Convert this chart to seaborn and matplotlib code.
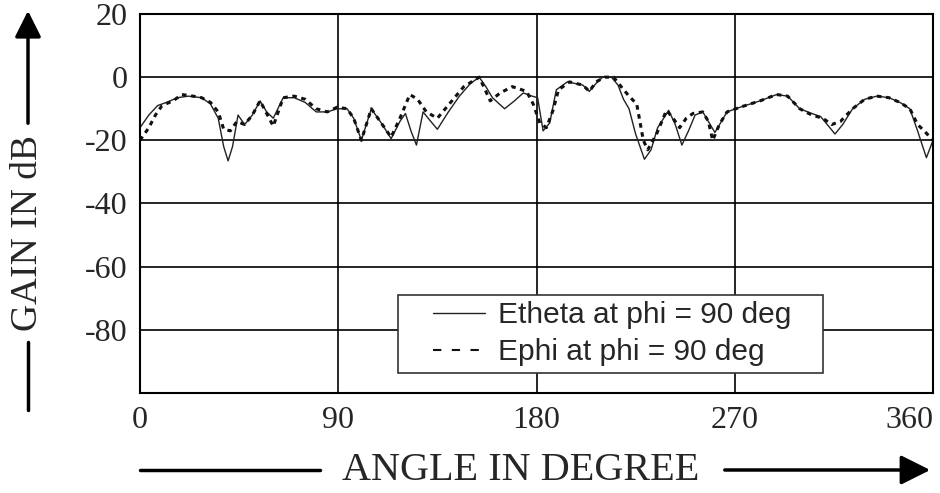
import numpy as np
import pandas as pd
import matplotlib
matplotlib.use('Agg')
import matplotlib.pyplot as plt
import seaborn as sns
from matplotlib.patches import FancyArrowPatch, Rectangle
from matplotlib.lines import Line2D

# Etheta at phi = 90 deg (solid trace)
etheta_angle = [0, 4, 8, 12, 17, 22, 28, 32, 35.5, 38, 40, 42, 44.5, 47.5, 51, 54.5, 57.5, 60.5,
                65, 70, 75, 80, 85, 89.5, 94, 97, 100.5, 105, 110, 114, 118, 120.5, 123, 125.5,
                128.5, 132, 135, 140, 145, 150, 154, 157, 160, 165.5, 170, 174, 178, 180.5, 183,
                186, 189, 194, 201, 204, 207, 210, 214, 217, 219.5, 222, 225, 229, 232, 235, 240,
                243, 246, 249, 252, 255.5, 258, 261, 266.5, 272.5, 281.5, 289, 294, 299.5, 305,
                309, 312, 315.5, 319, 323.5, 329, 334.5, 340, 345, 349.5, 353, 357, 360]
etheta_gain = [-16, -12, -9, -8, -6.5, -6, -6.5, -8.5, -13, -22, -26.5, -22, -12, -15, -12, -7.5, -11, -13,
               -6.5, -6.5, -8, -11, -11, -10, -10, -13, -20, -10, -15, -19.5, -14, -11.5, -17, -21.5,
               -11, -14, -16.5, -11, -6, -2, 0, -3, -6.5, -10, -7.5, -5, -6, -6.5, -17,
               -14.5, -4, -1.5, -2.5, -4.5, -2, 0, 0, -2.5, -7, -10, -18, -26, -23, -16, -10.5,
               -15, -21.5, -17, -12, -11, -14, -17.5, -11, -9.5, -7.5, -5.5, -6, -10, -11.5,
               -12.5, -15, -18, -15, -10, -7, -6, -6.5, -8, -10, -17, -25.5, -20]

# Ephi at phi = 90 deg (dashed trace)
ephi_angle = [0, 4, 7, 10, 15, 19, 24, 28, 32, 35.5, 38, 41, 44, 47.5, 51, 54.5, 57.5, 60.5,
              65, 70, 75, 80, 85, 89.5, 94, 97, 100.5, 105, 110, 114, 118, 122.5, 126, 130, 135,
              141, 147, 154, 159, 163.5, 169, 175.5, 178.5, 181.5, 184.5, 187.5, 190, 195, 201,
              204, 207, 211, 215, 219, 222, 225.5, 228.5, 230.5, 234.5, 239, 242, 245, 248, 251,
              255.5, 258, 260, 263, 266.5, 272.5, 281.5, 289, 294, 299.5, 305, 310, 314, 318,
              323.5, 329, 334.5, 340, 345, 349.5, 353, 356, 360]
ephi_gain = [-20, -16, -12, -9, -7.5, -5.5, -6, -6.5, -8, -11, -16.5, -17, -14, -15, -12, -7.5, -11.5, -15.5,
             -6.5, -6, -7, -10, -11, -9.5, -10, -13, -20, -10, -15, -19, -13, -5.5, -7, -11, -13,
             -8, -3, 0, -7.5, -5, -3, -4.5, -8.5, -14.5, -16, -10.5, -4, -1.5, -2.5,
             -4.5, -1.5, 0, 0, -3.5, -6, -8.5, -20, -23, -18, -10.5, -13, -16, -13, -11.5,
             -11, -14, -20, -15, -11, -9.5, -7.5, -5.5, -6, -10, -12, -13, -15, -14,
             -10, -7, -6, -6.5, -8, -10, -15, -17, -20]

x_ticks = [0, 90, 180, 270, 360]
y_ticks = [20, 0, -20, -40, -60, -80]

sns.set_style('white')
plt.rcParams['font.family'] = ['Liberation Serif', 'DejaVu Serif']
plt.rcParams['axes.unicode_minus'] = False

fig = plt.figure(figsize=(9.4, 4.93), dpi=100)
ax = fig.add_axes([140 / 940, 1 - 393 / 493, 793 / 940, 379 / 493])

sns.lineplot(x=etheta_angle, y=etheta_gain, ax=ax, color='#222222', linewidth=1.0,
             label='Etheta at phi = 90 deg', errorbar=None)
sns.lineplot(x=ephi_angle, y=ephi_gain, ax=ax, color='#111111', linewidth=2.2,
             linestyle=(0, (1.5, 1.5)), label='Ephi at phi = 90 deg', errorbar=None)

ax.set_xlim(0, 360)
ax.set_ylim(-100, 20)
ax.set_xticks(x_ticks)
ax.set_yticks(y_ticks)
ax.grid(True, color='black', linewidth=1.2)
ax.tick_params(length=0, labelsize=23, pad=9)
# last x label sits inside the right edge
ax.get_xticklabels()[-1].set_horizontalalignment('right')
for s in ax.spines.values():
    s.set_color('black')
    s.set_linewidth(1.5)
ax.set_xlabel('')
ax.set_ylabel('')

# legend: frame drawn as a box, entries placed inside it
ax.add_patch(Rectangle((0.325, 0.053), 0.536, 0.206, transform=ax.transAxes,
                       facecolor='white', edgecolor='#333333', linewidth=1.2, zorder=4))
h, l = ax.get_legend_handles_labels()
h[1] = Line2D([], [], color='#111111', linewidth=1.5, linestyle=(0, (4, 5)))
leg = ax.legend(h, l, loc='center left', bbox_to_anchor=(0.369, 0.156), frameon=False,
                handlelength=1.75, handletextpad=0.45, borderpad=0, borderaxespad=0,
                labelspacing=0.3, prop={'family': 'Liberation Sans', 'size': 21.5})
leg.set_zorder(5)

# y axis label with arrow
fig.text(28 / 940, 1 - 233 / 493, 'GAIN IN dB', rotation=90, ha='center', va='center', fontsize=27)
fig.add_artist(Line2D([28 / 940, 28 / 940], [1 - 410 / 493, 1 - 342 / 493],
                      transform=fig.transFigure, color='black', linewidth=2.5))
fig.add_artist(FancyArrowPatch((28 / 940, 1 - 126 / 493), (28 / 940, 1 - 8 / 493),
                               transform=fig.transFigure, arrowstyle='-|>', mutation_scale=40,
                               color='black', linewidth=2.5))

# x axis label with arrow
fig.text(521 / 940, 1 - 470 / 493, 'ANGLE IN DEGREE', ha='center', va='center', fontsize=29)
fig.add_artist(Line2D([140 / 940, 320 / 940], [1 - 470 / 493, 1 - 470 / 493],
                      transform=fig.transFigure, color='black', linewidth=2.5))
fig.add_artist(FancyArrowPatch((722 / 940, 1 - 470 / 493), (933 / 940, 1 - 470 / 493),
                               transform=fig.transFigure, arrowstyle='-|>', mutation_scale=45,
                               color='black', linewidth=2.5))

fig.savefig('out.png', dpi=100)
